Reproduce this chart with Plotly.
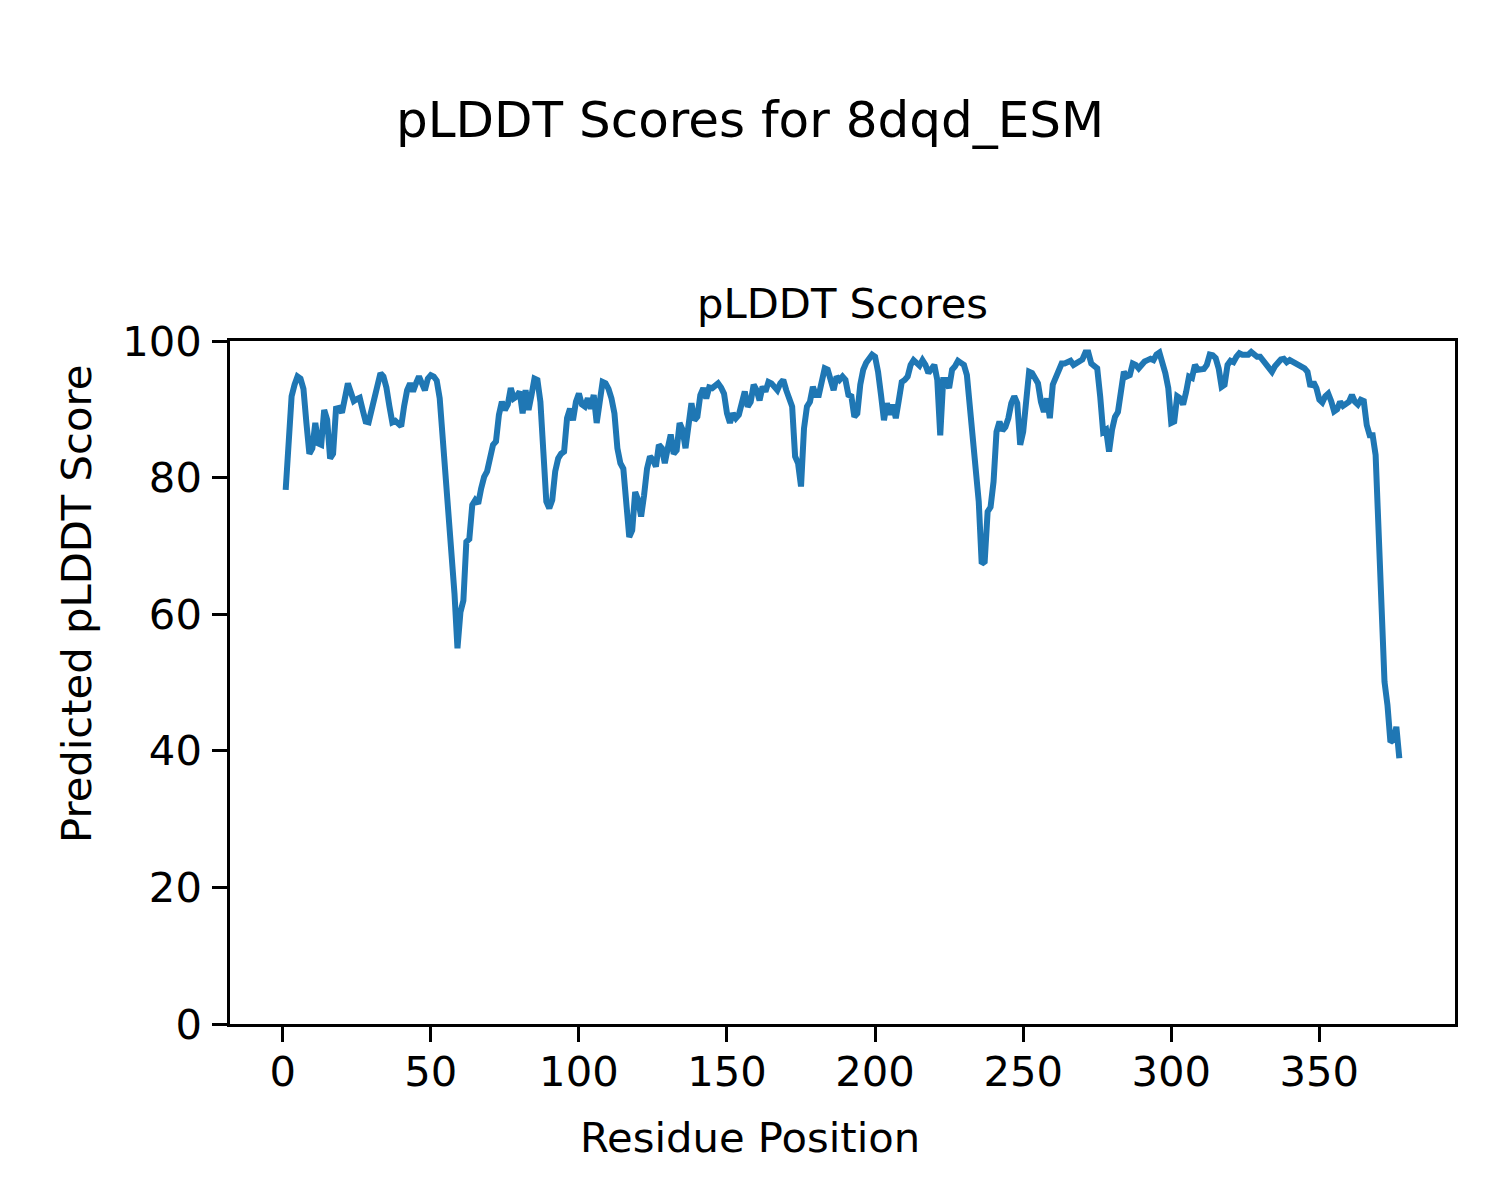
import plotly.graph_objects as go

# pLDDT per residue (residues 1..377)
plddt = [
    78.2, 87.0, 91.9, 93.6, 94.8, 94.5, 93.0, 88.0, 83.5, 84.3,
    88.0, 85.0, 84.8, 89.9, 88.5, 82.8, 83.5, 90.1, 90.2, 89.5,
    91.8, 93.8, 92.5, 91.2, 91.5, 91.7, 89.9, 88.2, 88.1, 90.0,
    92.3, 94.3, 95.3, 94.8, 93.2, 90.5, 88.1, 88.3, 88.0, 87.5,
    90.5, 92.8, 93.8, 92.6, 93.8, 94.8, 93.8, 92.8, 94.5, 95.0,
    94.8, 94.2, 91.6, 85.7, 82.5, 75.5, 70.8, 63.0, 55.0, 60.3,
    62.0, 70.6, 71.0, 76.0, 76.7, 76.2, 78.4, 80.1, 80.9, 82.6,
    84.8, 85.3, 89.2, 91.1, 89.9, 90.7, 93.1, 91.6, 91.9, 92.6,
    89.4, 92.8, 89.9, 92.1, 94.5, 94.3, 91.1, 83.8, 76.5, 75.5,
    76.7, 80.9, 82.8, 83.5, 83.8, 88.7, 90.1, 88.4, 91.1, 92.3,
    90.7, 90.4, 91.6, 90.1, 92.1, 88.0, 91.1, 94.0, 93.8, 93.0,
    91.6, 89.4, 84.3, 82.1, 81.3, 75.0, 71.3, 72.3, 77.9, 76.7,
    74.3, 77.4, 81.3, 83.1, 82.6, 81.6, 84.8, 84.3, 82.1, 84.3,
    86.3, 83.5, 84.0, 88.0, 87.0, 84.3, 87.7, 90.9, 88.4, 88.9,
    92.1, 93.1, 91.6, 93.2, 93.1, 93.5, 93.8, 93.2, 92.3, 89.4,
    88.0, 89.4, 88.7, 89.2, 91.1, 92.6, 90.4, 91.1, 93.6, 92.8,
    91.3, 93.3, 92.6, 94.0, 93.8, 93.3, 92.8, 93.8, 94.3, 92.8,
    91.5, 90.4, 83.1, 82.1, 78.7, 87.2, 90.4, 91.1, 93.3, 92.1,
    92.1, 94.5, 96.0, 95.8, 94.0, 92.8, 94.8, 94.3, 94.8, 94.3,
    92.1, 91.9, 88.9, 89.4, 93.6, 95.8, 96.8, 97.6, 98.0, 97.7,
    95.5, 92.1, 88.4, 90.9, 89.2, 90.7, 88.7, 91.3, 94.0, 94.3,
    94.8, 96.5, 97.2, 96.8, 96.4, 97.2, 96.5, 95.3, 95.8, 96.5,
    94.3, 86.2, 94.3, 94.3, 93.1, 95.8, 96.3, 97.1, 96.8, 96.5,
    95.0, 90.1, 86.2, 79.4, 76.5, 67.4, 67.7, 75.0, 75.7, 79.4,
    86.7, 88.2, 86.9, 87.4, 88.7, 90.9, 91.9, 90.9, 84.8, 86.7,
    91.6, 95.5, 95.3, 94.5, 93.8, 91.1, 89.6, 91.6, 88.7, 93.6,
    94.5, 95.5, 96.7, 96.7, 96.9, 97.1, 96.5, 96.8, 97.1, 97.3,
    98.3, 98.3, 96.7, 96.4, 96.0, 91.9, 86.7, 87.0, 83.8, 87.0,
    88.9, 89.6, 92.0, 95.5, 94.8, 95.0, 96.7, 96.5, 96.0, 96.7,
    97.0, 97.2, 97.4, 97.2, 98.0, 98.3, 96.9, 95.3, 93.1, 88.0,
    88.2, 91.9, 91.6, 90.7, 92.5, 94.8, 94.6, 96.5, 95.8, 95.8,
    95.9, 96.5, 98.0, 97.9, 97.5, 96.0, 93.3, 93.6, 96.5, 97.1,
    96.9, 97.7, 98.2, 98.0, 98.1, 98.0, 98.4, 97.9, 97.7, 97.7,
    97.2, 96.5, 96.3, 95.5, 96.3, 96.8, 97.3, 97.4, 96.9, 97.2,
    97.0, 96.7, 96.5, 96.3, 96.0, 95.5, 93.3, 94.0, 93.1, 91.4,
    91.0, 91.9, 92.3, 91.2, 89.7, 90.0, 91.1, 90.5, 90.7, 91.1,
    92.1, 91.1, 90.7, 91.4, 91.2, 87.7, 86.2, 86.2, 83.3, 71.6,
    59.4, 50.1, 46.7, 41.3, 41.6, 43.5, 38.9,
]
residues = list(range(1, len(plddt) + 1))

x_ticks = [0, 50, 100, 150, 200, 250, 300, 350]
y_ticks = [0, 20, 40, 60, 80, 100]

fig_title = "pLDDT Scores for 8dqd_ESM"
ax_title = "pLDDT Scores"
x_label = "Residue Position"
y_label = "Predicted pLDDT Score"

FONT = "DejaVu Sans"
OFF = 8  # page body margin
W, H = 1500 - OFF, 1200 - OFF
# plot area in screen pixels: x 230..1455, y 341..1024
SL, ST, SR, SB = 230, 341, 1455, 1024
L, T = SL - OFF, ST - OFF
R, B = W - (SR - OFF), H - (SB - OFF)
pw, ph = SR - SL, SB - ST

def px(x):
    return (x - SL) / pw

def py(y):
    return (SB - y) / ph

fig = go.Figure()
fig.add_trace(go.Scatter(
    x=residues, y=plddt, mode="lines",
    line=dict(color="#1f77b4", width=6),
    showlegend=False, hoverinfo="skip",
))

axis_common = dict(
    showline=True, linecolor="black", linewidth=3.3, mirror=True,
    ticks="outside", ticklen=14.6, tickwidth=3.3, tickcolor="black",
    showgrid=False, zeroline=False,
    tickfont=dict(family=FONT, size=41.7, color="black"),
)

fig.update_xaxes(range=[-17.8, 395.8], tickvals=x_ticks,
                 ticklabelstandoff=-6, **axis_common)
fig.update_yaxes(range=[0, 100], tickvals=y_ticks,
                 ticklabelstandoff=2, **axis_common)

ann = [
    dict(text=fig_title, x=px(750), y=py(119.5), size=50),
    dict(text=ax_title, x=0.5, y=py(303), size=41.7),
    dict(text=x_label, x=px(750), y=py(1137), size=41.7),
]
for a in ann:
    fig.add_annotation(
        text=a["text"], x=a["x"], y=a["y"], xref="paper", yref="paper",
        xanchor="center", yanchor="middle", showarrow=False,
        font=dict(family=FONT, size=a["size"], color="black"),
    )
fig.add_annotation(
    text=y_label, x=px(76), y=py(604), xref="paper", yref="paper",
    xanchor="center", yanchor="middle", showarrow=False, textangle=-90,
    font=dict(family=FONT, size=41.7, color="black"),
)

fig.update_layout(
    width=W, height=H,
    margin=dict(l=L, r=R, t=T, b=B, pad=0),
    paper_bgcolor="white", plot_bgcolor="white",
    font=dict(family=FONT, color="black"),
)

fig.write_html("out.html")
